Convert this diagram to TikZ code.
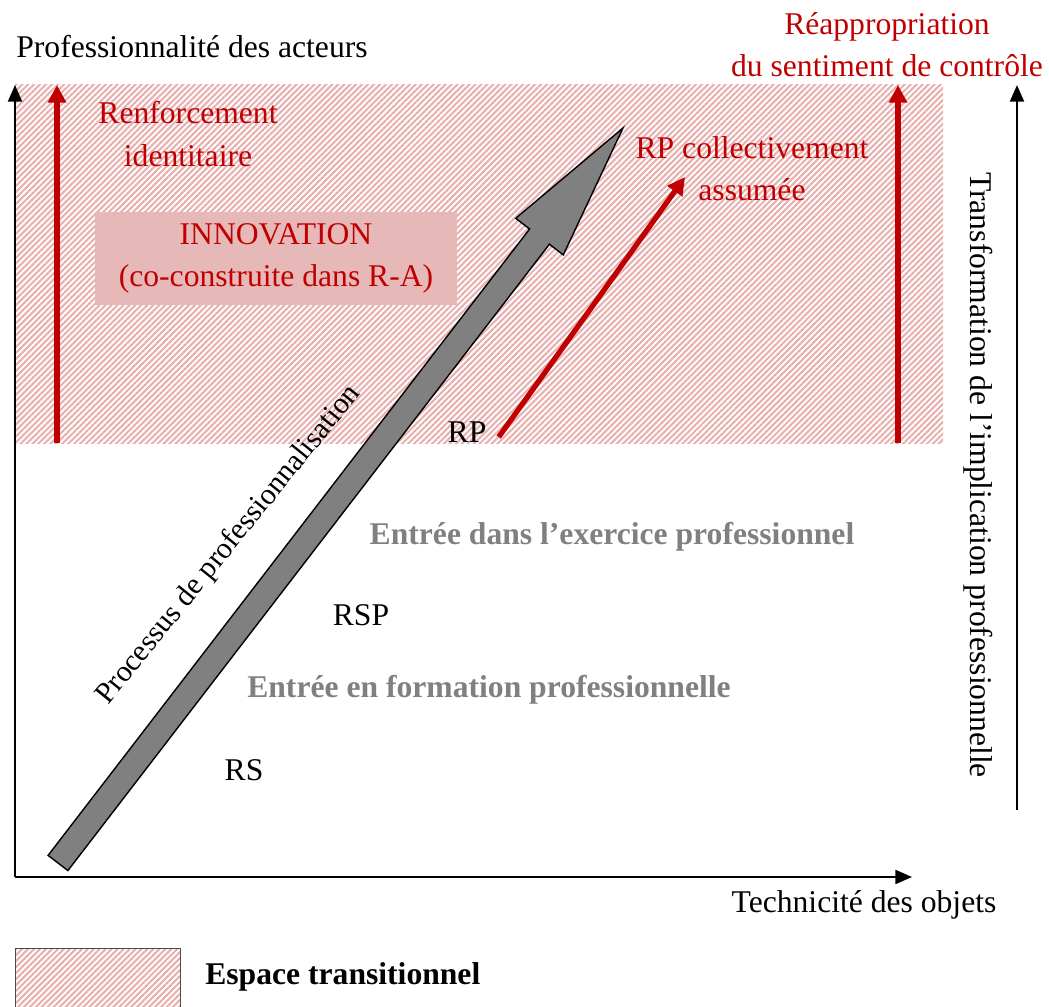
\documentclass[tikz,border=0pt]{standalone}
\usepackage{fontspec}
\setmainfont{Liberation Serif}
\definecolor{tpred}{RGB}{192,0,0}
\definecolor{tphatch}{RGB}{232,176,176}
\definecolor{tpbox}{RGB}{230,184,183}
\definecolor{tpgrey}{RGB}{128,128,128}
\usetikzlibrary{arrows.meta,positioning,patterns.meta}

\begin{document}
\begin{tikzpicture}[
  x=0.02cm, y=-0.02cm,
  every node/.style={font=\fontsize{18}{24}\selectfont, inner sep=0pt, align=center},
  axisline/.style={draw=black, line width=1.2pt, -{Triangle[length=9.5pt,width=8pt]}},
  redline/.style={draw=tpred, line width=3pt, -{Triangle[length=10pt,width=10pt]}},
  hatch/.style={pattern={Lines[angle=45,distance=2.4pt,line width=1.2pt]}, pattern color=tphatch},
  redtxt/.style={text=tpred},
  steptxt/.style={text=tpgrey, font=\fontsize{18}{24}\selectfont\bfseries},
  innobox/.style={fill=tpbox, text=tpred, minimum width=7.24cm, minimum height=1.86cm},
]
  \useasboundingbox (0,0) rectangle (1049,1007);

  % transitional space
  \path[hatch] (15,85) rectangle (943,443);

  % axes
  \coordinate (o) at (15,877);
  \coordinate (ytop) at (15,85);
  \coordinate (xend) at (912,877);
  \coordinate (rbot) at (1017,810);
  \coordinate (rtop) at (1017,85);
  \draw[axisline] (o) -- (ytop);
  \draw[axisline] (o) -- (xend);
  \draw[axisline] (rbot) -- (rtop);

  % red arrows
  \coordinate (lbot) at (57,443);
  \coordinate (ltop) at (57,85);
  \coordinate (rrbot) at (898,443);
  \coordinate (rrtop) at (898,85);
  \coordinate (rpend) at (685,177);
  \draw[redline] (lbot) -- (ltop);
  \draw[redline] (rrbot) -- (rrtop);

  % professionalisation arrow
  \filldraw[fill=tpgrey, draw=black, line width=0.8pt]
    (48.1,855.4) -- (67.9,870.6) -- (549.4,244.2) -- (563.3,254.9) -- (623,128)
    -- (515.7,218.3) -- (529.6,229) -- cycle;

  % labels
  \node (yaxis) at (192,47) {Professionnalité des acteurs};
  \node (xaxis) at (864,905) {Technicité des objets};
  \node[rotate=-90] (raxis) at (978,475) {Transformation de l’implication professionnelle};
  \node[redtxt] (reap) at (887,45) {Réappropriation\\du sentiment de contrôle};
  \node[redtxt] (renf) at (188,134) {Renforcement\\identitaire};
  \node[redtxt] (rpcoll) at (752,169) {RP collectivement\\assumée};
  \node[innobox] (inno) at (276,258.5) {INNOVATION\\(co-construite dans R-A)};
  \node (rp) at (467,432) {RP};
  \node (rsp) at (361,615) {RSP};
  \node (rs) at (244,770) {RS};
  \node[steptxt] (exer) at (612,537) {Entrée dans l’exercice professionnel};
  \node[steptxt] (form) at (489,690) {Entrée en formation professionnelle};
  \node[rotate=51, font=\fontsize{17}{20}\selectfont] (proc) at (229,545) {Processus de professionnalisation};

  \draw[redline] (rp.east) ++(12,5) -- (rpend);

  % legend
  \node[hatch, draw=black!70, line width=0.8pt, minimum width=3.3cm, minimum height=1.4cm, anchor=north west] (leg) at (15,948) {};
  \node[anchor=west, font=\fontsize{18}{24}\selectfont\bfseries] (legtxt) at (205,977) {Espace transitionnel};
\end{tikzpicture}
\end{document}
